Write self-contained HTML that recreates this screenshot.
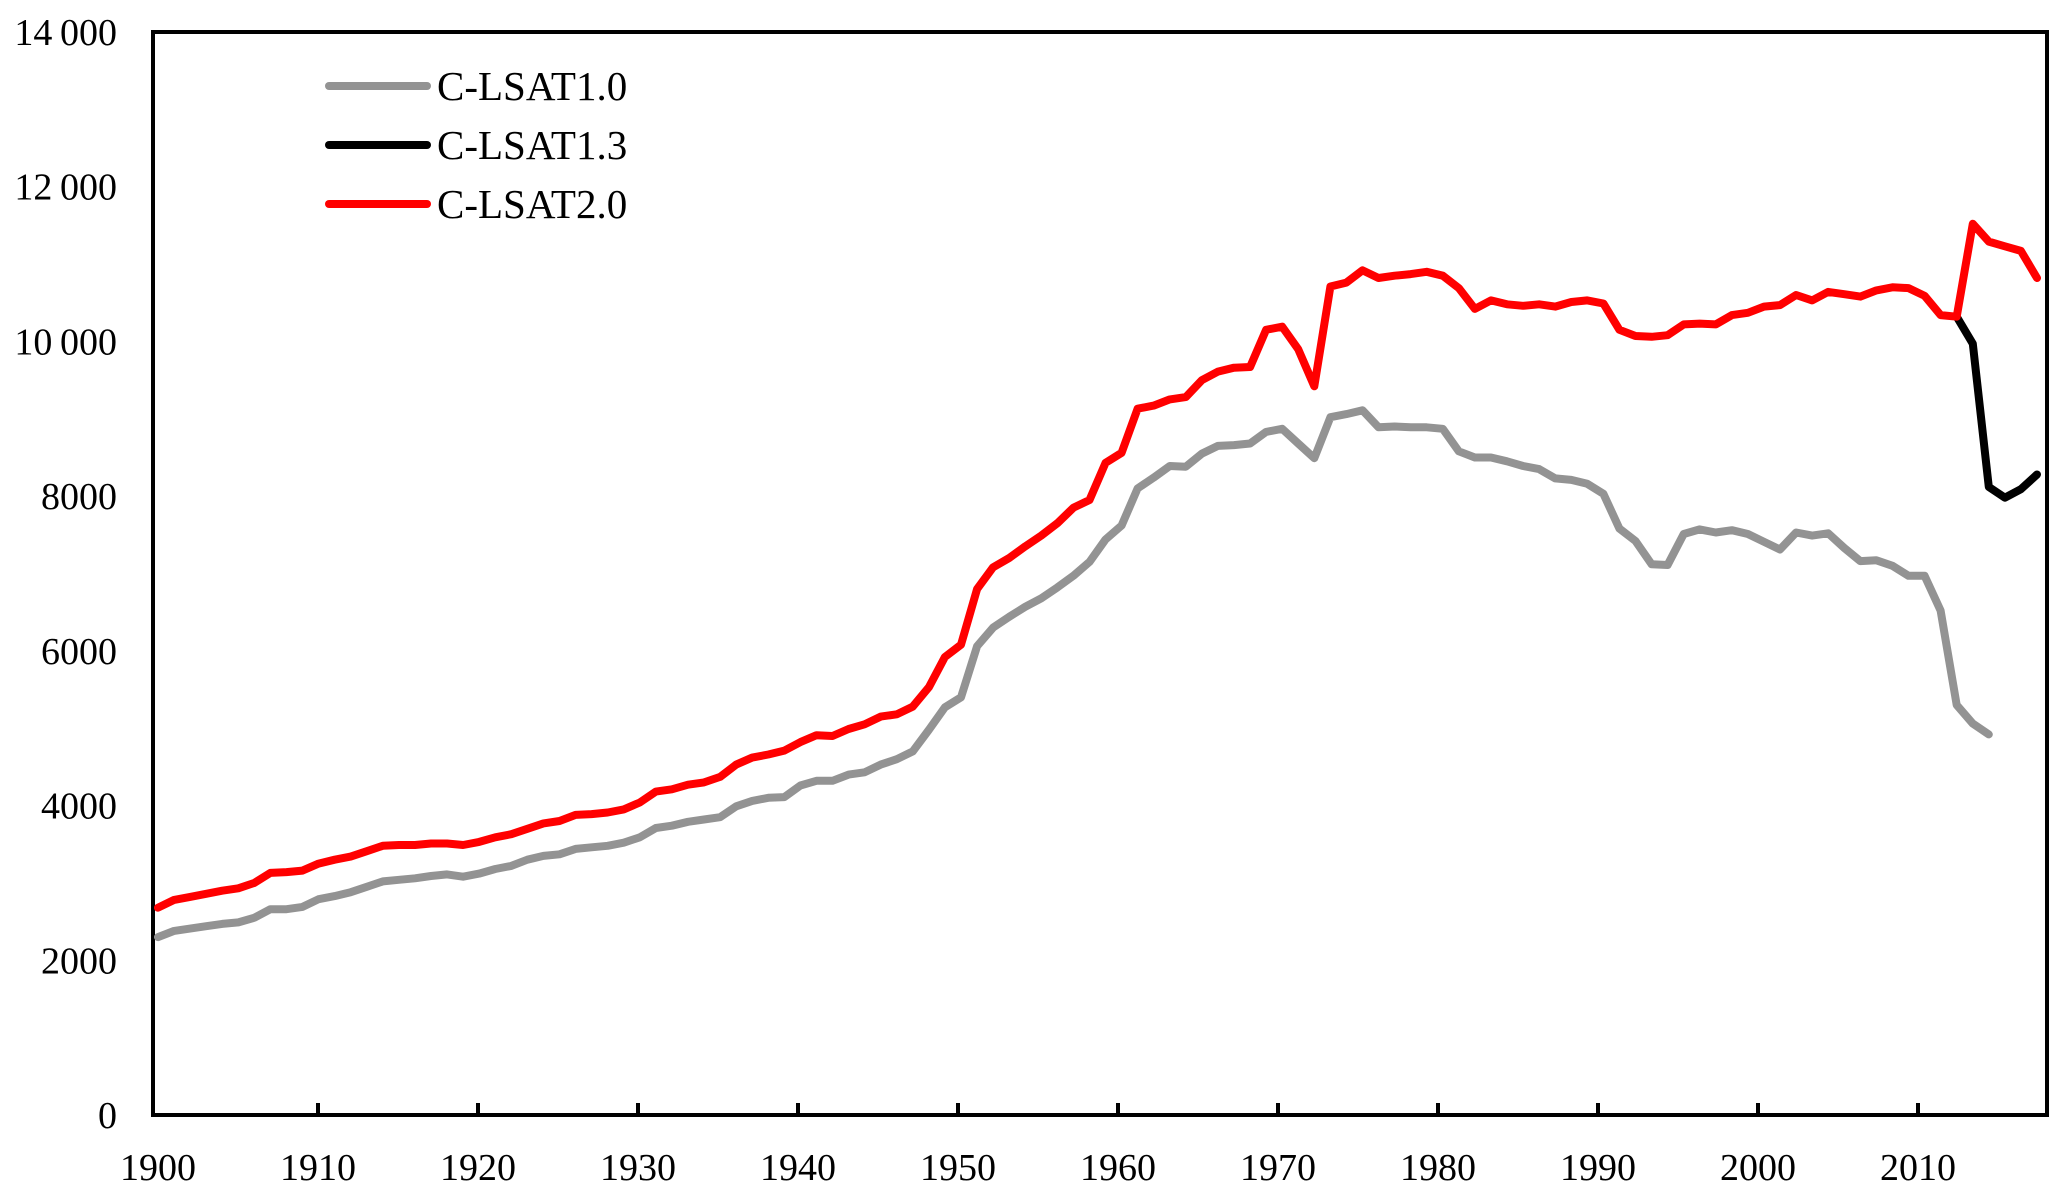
<!DOCTYPE html>
<html><head><meta charset="utf-8"><style>
html,body{margin:0;padding:0;background:#fff;}
svg{display:block;font-family:"Liberation Serif",serif;}
</style></head><body>
<svg id="chart" width="2067" height="1193" viewBox="0 0 2067 1193" xmlns="http://www.w3.org/2000/svg">
<g id="axes"></g><g id="series"></g><g id="legend"></g>
</svg>
<script>
const yTicks = [0, 2000, 4000, 6000, 8000, 10000, 12000, 14000];
const yTickLabels = ["0","2000","4000","6000","8000","10\u2009000","12\u2009000","14\u2009000"];
const xTicks = [1900,1910,1920,1930,1940,1950,1960,1970,1980,1990,2000,2010];
const seriesNames = ["C-LSAT1.0","C-LSAT1.3","C-LSAT2.0"];
const greyStart = 1900;
const greyValues = [
2300,2380,2410,2440,2470,2490,2550,2660,2660,2690,
2790,2830,2880,2950,3020,3040,3060,3090,3110,3080,
3120,3180,3220,3300,3350,3370,3440,3460,3480,3520,
3590,3710,3740,3790,3820,3850,3990,4060,4100,4110,
4260,4320,4320,4400,4430,4530,4600,4700,4980,5270,
5400,6060,6300,6440,6570,6680,6820,6970,7150,7440,
7620,8100,8240,8390,8380,8550,8650,8660,8680,8830,
8870,8680,8490,9020,9060,9110,8890,8900,8890,8890,
8870,8580,8500,8500,8450,8390,8350,8230,8210,8160,
8030,7580,7420,7120,7110,7510,7570,7530,7560,7510,
7410,7310,7530,7490,7520,7330,7160,7170,7100,6970,
6970,6520,5300,5060,4920];
const blackStart = 2012;
const blackValues = [10320,9970,8120,7980,8090,8280];
const redStart = 1900;
const redValues = [
2680,2780,2820,2860,2900,2930,3000,3130,3140,3160,
3250,3300,3340,3410,3480,3490,3490,3510,3510,3490,
3530,3590,3630,3700,3770,3800,3880,3890,3910,3950,
4040,4180,4210,4270,4300,4370,4530,4620,4660,4710,
4820,4910,4900,4990,5050,5150,5180,5280,5530,5920,
6080,6800,7080,7200,7350,7490,7650,7850,7950,8430,
8560,9130,9170,9250,9280,9500,9610,9660,9670,10150,
10190,9900,9420,10710,10760,10920,10820,10850,10870,10900,
10850,10690,10420,10530,10480,10460,10480,10450,10510,10530,
10490,10150,10070,10060,10080,10220,10230,10220,10340,10370,
10450,10470,10600,10530,10640,10610,10580,10660,10700,10690,
10590,10340,10320,11520,11290,11230,11170,10820];

const NS="http://www.w3.org/2000/svg";
const L=153,R=2047,T=32,B=1115;
const y=v=>B-(v/14000)*(B-T);
const xPt=yr=>158+(yr-1900)*(2037-158)/117;
const xTick=yr=>158+(yr-1900)*16.0;
function mk(tag,attrs,parent){const e=document.createElementNS(NS,tag);for(const k in attrs)e.setAttribute(k,attrs[k]);parent.appendChild(e);return e;}
const axes=document.getElementById('axes');
const frame=mk('rect',{x:L,y:T,width:R-L,height:B-T,fill:'none',stroke:'#000','stroke-width':4},axes);


yTicks.forEach((v,i)=>{
  const t=mk('text',{x:117,y:y(v)+13,'text-anchor':'end','font-size':38,fill:'#000'},axes);
  t.textContent=yTickLabels[i];
  
  
});
xTicks.forEach(yr=>{
  const xx=xTick(yr);
  if(yr>1900){const tk=mk('line',{x1:xx,x2:xx,y1:B,y2:B-12,stroke:'#000','stroke-width':4},axes);
  
  }
  const t=mk('text',{x:xx,y:1180,'text-anchor':'middle','font-size':38,fill:'#000'},axes);
  t.textContent=String(yr);
  
  
});
const ser=document.getElementById('series');
function line(vals,start,color,name){
  const pts=vals.map((v,i)=>xPt(start+i).toFixed(1)+','+y(v).toFixed(1)).join(' ');
  const p=mk('polyline',{points:pts,fill:'none',stroke:color,'stroke-width':8,'stroke-linejoin':'round','stroke-linecap':'round'},ser);
  
  
}
line(greyValues,greyStart,'#939393','c-lsat1-0-line');
line(blackValues,blackStart,'#000000','c-lsat1-3-line');
line(redValues,redStart,'#ff0000','c-lsat2-0-line');
const leg=document.getElementById('legend');
const colors=['#939393','#000000','#ff0000'];
const legY=[86,145,204];
seriesNames.forEach((n,i)=>{
  const l=mk('line',{x1:329,x2:427,y1:legY[i],y2:legY[i],stroke:colors[i],'stroke-width':8,'stroke-linecap':'round'},leg);
  
  
  const t=mk('text',{x:437,y:legY[i]+14,'font-size':41,fill:'#000'},leg);
  t.textContent=n;
  
  
});
</script>
</body></html>
